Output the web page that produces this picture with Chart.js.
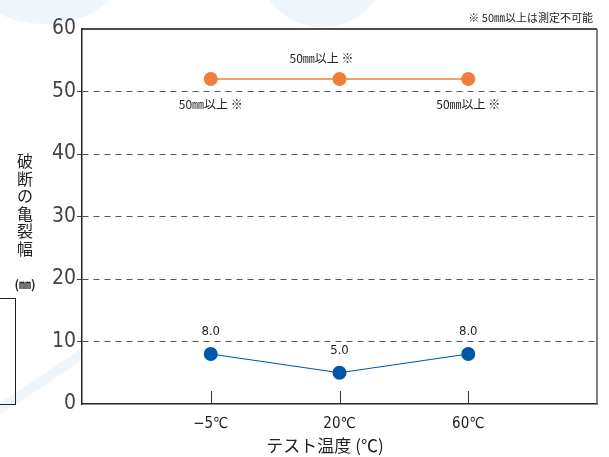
<!DOCTYPE html>
<html>
  <head>
    <title>破断の亀裂幅</title>
    <style>
      body { margin: 0; background: #fff; }
      #wrap { width: 609px; height: 457px; }
    </style>
  </head>
  <body>
    <div id="wrap">
      <canvas id="myChart" width="609" height="457"></canvas>
    </div>

    <script src="https://cdn.jsdelivr.net/npm/chart.js"></script>
    <script>

    // chart values
    const categories = ['−5℃', '20℃', '60℃'];
    const overLimit = [52, 52, 52];          // drawn above 50 = "50mm以上"
    const overLimitText = ['50㎜以上 ※', '50㎜以上 ※', '50㎜以上 ※'];
    const crackWidth = [8.0, 5.0, 8.0];
    const crackText = ['8.0', '5.0', '8.0'];
    const yTicks = [0, 10, 20, 30, 40, 50, 60];

    const yTitle = '破断の亀裂幅';
    const yUnit = '(㎜)';
    const xTitle = 'テスト温度 (℃)';
    const note = '※ 50㎜以上は測定不可能';

    const NARROW = '"Liberation Sans Narrow", "DejaVu Sans Condensed", "Noto Sans CJK JP", sans-serif';
    const JP = '"Noto Sans CJK JP", sans-serif';
    const ORANGE = '#f07e3a';
    const BLUE = '#0056a8';

    // pad the category axis with empty slots at both ends
    const labels = [''].concat(categories, ['']);
    const pad = arr => [null].concat(arr, [null]);

    // background swooshes, plot fill, frame, titles, value labels
    const decor = {
      id: 'decor',
      beforeDraw(chart) {
        const ctx = chart.ctx;
        const a = chart.chartArea;
        ctx.save();
        ctx.fillStyle = '#fff';
        ctx.fillRect(0, 0, chart.width, chart.height);
        ctx.fillStyle = '#eef5fb';
        ctx.beginPath();
        ctx.ellipse(45, -22, 72, 46, 0, 0, Math.PI * 2);
        ctx.fill();
        ctx.beginPath();
        ctx.ellipse(322, -30, 62, 57, 0, 0, Math.PI * 2);
        ctx.fill();
        ctx.fillStyle = '#fff';
        ctx.beginPath();
        ctx.ellipse(340, -48, 42, 48, 0, 0, Math.PI * 2);
        ctx.fill();
        ctx.strokeStyle = '#eef5fb';
        ctx.lineWidth = 10;
        ctx.beginPath();
        ctx.moveTo(-10, 415);
        ctx.quadraticCurveTo(45, 380, 90, 348);
        ctx.stroke();
        ctx.fillStyle = '#fff';
        ctx.fillRect(a.left, a.top, a.right - a.left, a.bottom - a.top);
        ctx.restore();
      },
      afterDatasetsDraw(chart) {
        const ctx = chart.ctx;
        const x = chart.scales.x;
        const y = chart.scales.y;
        const a = chart.chartArea;
        ctx.save();

        // frame top + right
        ctx.lineWidth = 1.5;
        ctx.strokeStyle = '#111';
        ctx.beginPath();
        ctx.moveTo(a.left, a.top);
        ctx.lineTo(a.right, a.top);
        ctx.stroke();
        ctx.strokeStyle = '#555';
        ctx.beginPath();
        ctx.moveTo(a.right, a.top);
        ctx.lineTo(a.right, a.bottom);
        ctx.stroke();

        // inner tick marks on the x axis
        ctx.strokeStyle = '#333';
        ctx.lineWidth = 1;
        categories.forEach((c, i) => {
          const px = Math.round(x.getPixelForValue(i + 1)) + 0.5;
          ctx.beginPath();
          ctx.moveTo(px, a.bottom);
          ctx.lineTo(px, a.bottom - 13);
          ctx.stroke();
        });

        // value labels
        ctx.fillStyle = '#222';
        ctx.textAlign = 'center';
        ctx.textBaseline = 'middle';
        ctx.font = '12px ' + JP;
        overLimit.forEach((v, i) => {
          const px = x.getPixelForValue(i + 1);
          const py = y.getPixelForValue(v);
          if (i === 1) ctx.fillText(overLimitText[i], px - 18, py - 21);
          else ctx.fillText(overLimitText[i], px, py + 25);
        });
        ctx.font = '13px ' + NARROW;
        crackWidth.forEach((v, i) => {
          const px = x.getPixelForValue(i + 1);
          const py = y.getPixelForValue(v);
          ctx.fillText(crackText[i], px, py - 22);
        });
        ctx.restore();
      },
      afterDraw(chart) {
        const ctx = chart.ctx;
        ctx.save();
        ctx.fillStyle = '#222';
        ctx.textAlign = 'center';
        ctx.textBaseline = 'middle';

        // vertical y title
        ctx.font = '16px ' + JP;
        for (let i = 0; i < yTitle.length; i++) {
          ctx.fillText(yTitle[i], 25, 161 + i * 17.6);
        }
        ctx.font = 'bold 12px ' + JP;
        ctx.fillText(yUnit, 25, 284);

        // x title
        ctx.font = '17px ' + JP;
        ctx.fillText(xTitle, 325, 446);

        // note top right
        ctx.font = '11px ' + JP;
        ctx.textAlign = 'right';
        ctx.fillText(note, 593, 18);

        // small box at the left edge
        ctx.strokeStyle = '#222';
        ctx.lineWidth = 1;
        ctx.strokeRect(-1.5, 298.5, 17, 106);
        ctx.restore();
      }
    };

    const data = {
      labels: labels,
      datasets: [
        {
          label: '50mm以上',
          data: pad(overLimit),
          borderColor: ORANGE,
          backgroundColor: ORANGE,
          borderWidth: 1.5,
          pointRadius: 7,
          pointHoverRadius: 7,
          pointBorderWidth: 0,
        },
        {
          label: '亀裂幅',
          data: pad(crackWidth),
          borderColor: BLUE,
          backgroundColor: BLUE,
          borderWidth: 1.2,
          pointRadius: 7,
          pointHoverRadius: 7,
          pointBorderWidth: 0,
        }
      ]
    };

    const chart_config = {
      type: 'line',
      data: data,
      plugins: [decor],
      options: {
        responsive: false,
        animation: false,
        events: [],
        layout: { padding: { left: 0, top: 29, right: 12, bottom: 0 } },
        plugins: {
          legend: { display: false },
          tooltip: { enabled: false },
        },
        scales: {
          x: {
            type: 'category',
            offset: false,
            afterFit: s => { s.height = 53; },
            grid: { display: false, drawTicks: false },
            border: { color: '#222', width: 1.5 },
            ticks: {
              autoSkip: false,
              maxRotation: 0,
              padding: 11,
              color: '#222',
              font: { family: NARROW, size: 15 },
            },
          },
          y: {
            min: 0,
            max: 60,
            afterFit: s => { s.width = 82; },
            afterBuildTicks: s => { s.ticks = yTicks.map(v => ({ value: v })); },
            grid: {
              color: c => (c.tick.value === 0 || c.tick.value === 60) ? 'rgba(0,0,0,0)' : '#555',
              lineWidth: 1,
              tickLength: 5,
              tickColor: c => (c.tick.value === 0 || c.tick.value === 60) ? 'rgba(0,0,0,0)' : '#444',
            },
            border: { color: '#222', width: 1.5, dash: [6, 5] },
            ticks: {
              padding: 1,
              color: '#444',
              font: { family: NARROW, size: 21 },
            },
          }
        }
      }
    };

    new Chart(document.getElementById('myChart'), chart_config);

    </script>
  </body>
</html>
